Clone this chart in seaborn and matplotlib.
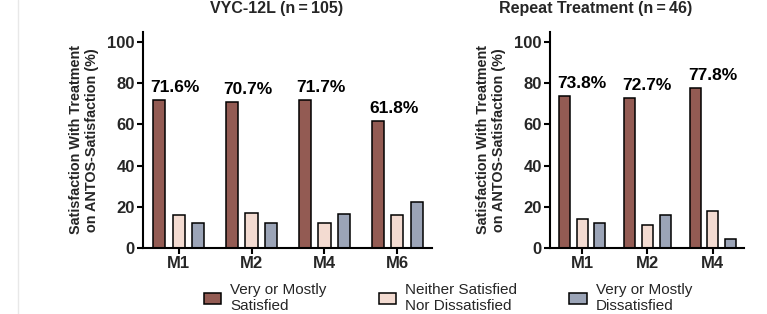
import matplotlib
matplotlib.use("Agg")
import matplotlib.pyplot as plt
import seaborn as sns
import pandas as pd
from matplotlib.patches import Patch
from matplotlib.lines import Line2D

# ---- data ----
categories = ["Very or Mostly\nSatisfied", "Neither Satisfied\nNor Dissatisfied", "Very or Mostly\nDissatisfied"]
left_title = "VYC-12L (n\u2009=\u2009105)"
left_months = ["M1", "M2", "M4", "M6"]
left_satisfied = [71.6, 70.7, 71.7, 61.8]
left_neither = [16.0, 17.2, 12.0, 15.8]
left_dissatisfied = [12.3, 12.1, 16.3, 22.4]

right_title = "Repeat Treatment (n\u2009=\u200946)"
right_months = ["M1", "M2", "M4"]
right_satisfied = [73.8, 72.7, 77.8]
right_neither = [14.3, 11.4, 17.8]
right_dissatisfied = [11.9, 15.9, 4.4]

y_ticks = [0, 20, 40, 60, 80, 100]
y_label = "Satisfaction With Treatment\non ANTOS-Satisfaction (%)"
colors = ["#935b53", "#f3dbd1", "#9ba4b7"]

sns.set_theme(style="ticks")
plt.rcParams["font.family"] = ["Liberation Sans", "DejaVu Sans"]


def make_df(months, sat, nei, dis):
    rows = []
    for m, a, b, c in zip(months, sat, nei, dis):
        rows.append((m, categories[0], a))
        rows.append((m, categories[1], b))
        rows.append((m, categories[2], c))
    return pd.DataFrame(rows, columns=["Month", "Response", "Percent"])


fig = plt.figure(figsize=(7.67, 3.14), dpi=100)
axL = fig.add_axes([0.1864, 0.2102, 0.3768, 0.689])
axR = fig.add_axes([0.7171, 0.2102, 0.2529, 0.689])

panels = [
    (axL, make_df(left_months, left_satisfied, left_neither, left_dissatisfied), left_satisfied, len(left_months)),
    (axR, make_df(right_months, right_satisfied, right_neither, right_dissatisfied), right_satisfied, len(right_months)),
]

for ax, df, sat, n in panels:
    sns.barplot(data=df, x="Month", y="Percent", hue="Response", hue_order=categories,
                palette=colors, width=0.81, gap=0.38, edgecolor="black", linewidth=1.1,
                legend=False, ax=ax, errorbar=None, saturation=1)
    ax.set_ylim(0, 105)
    ax.set_xlim(-0.49, n - 1 + 0.475)
    ax.set_yticks(y_ticks)
    ax.set_xlabel("")
    ax.set_ylabel(y_label, fontsize=10.4, fontweight="bold", labelpad=6, linespacing=1.15)
    for s in ["top", "right"]:
        ax.spines[s].set_visible(False)
    for s in ["left", "bottom"]:
        ax.spines[s].set_linewidth(1.5)
        ax.spines[s].set_color("black")
    ax.tick_params(axis="both", which="major", length=4, width=1.5, color="black",
                   labelsize=12, pad=2)
    for lab in ax.get_xticklabels() + ax.get_yticklabels():
        lab.set_fontweight("bold")
    # percent labels above satisfied bars
    brown_bars = ax.containers[0]
    for rect, v in zip(brown_bars, sat):
        ax.text(rect.get_x() - 0.03, v + 2.5, f"{v:.1f}%", ha="left", va="bottom",
                fontsize=12.5, fontweight="bold", color="black")

fig.text(277 / 767, 1 - 8.5 / 314, left_title, ha="center", va="center",
         fontsize=11.5, fontweight="bold")
fig.text(596 / 767, 1 - 8.5 / 314, right_title, ha="center", va="center",
         fontsize=11.5, fontweight="bold")

handles = [Patch(facecolor=c, edgecolor="black", linewidth=1.1) for c in colors]
fig.legend(handles, categories, loc="center", bbox_to_anchor=(0.584, 0.05), ncol=3,
           frameon=False, fontsize=11, handlelength=1.15, handleheight=0.7,
           handletextpad=0.6, columnspacing=3.4, labelspacing=0.15)

fig.add_artist(Line2D([18 / 767, 18 / 767], [0, 1], color="#e8e8e8", linewidth=1))

fig.savefig("out.png", dpi=100)
